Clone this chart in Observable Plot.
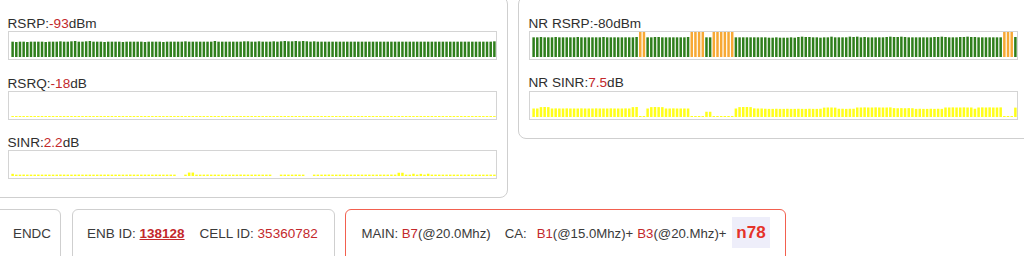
<!DOCTYPE html>
<html><head><meta charset="utf-8">
<script src="https://cdn.jsdelivr.net/npm/d3@7"></script>
<script src="https://cdn.jsdelivr.net/npm/@observablehq/plot@0.6"></script>
<style>
body{margin:0;width:1024px;height:256px;overflow:hidden;position:relative;background:#fff;font-family:"Liberation Sans",Arial,Helvetica,sans-serif;color:#333}
.panel{position:absolute;border:1px solid #cfcfcf;box-sizing:border-box}
.lbl{position:absolute;font-size:13.6px;line-height:16px;white-space:nowrap;color:#2e2e2e}
.red{color:#c3282b}
.box{position:absolute;border:1px solid #d4d4d4;box-sizing:border-box;width:489px;height:29px}
.box svg{display:block}
.bot{position:absolute;font-size:13.2px;line-height:16px;white-space:nowrap;color:#3a3a3a}
</style></head>
<body>
<div class="panel" style="left:-10px;top:-4px;width:518px;height:202px;border-radius:8px"></div>
<div class="panel" style="left:518px;top:-4px;width:520px;height:143px;border-radius:8px"></div>

<div class="lbl" style="left:7.5px;top:15.6px">RSRP:<span class="red" id="vRsrp"></span>dBm</div>
<div class="box" id="cRsrp" style="left:8px;top:31px"></div>
<div class="lbl" style="left:7.5px;top:75.6px">RSRQ:<span class="red" id="vRsrq"></span>dB</div>
<div class="box" id="cRsrq" style="left:8px;top:91px"></div>
<div class="lbl" style="left:7.5px;top:134.6px">SINR:<span class="red" id="vSinr"></span>dB</div>
<div class="box" id="cSinr" style="left:8px;top:150px"></div>

<div class="lbl" style="left:528.5px;top:15.6px">NR RSRP:<span id="vNrRsrp"></span>dBm</div>
<div class="box" id="cNrRsrp" style="left:529px;top:31px"></div>
<div class="lbl" style="left:528.5px;top:75.4px">NR SINR:<span class="red" id="vNrSinr"></span>dB</div>
<div class="box" id="cNrSinr" style="left:529px;top:91px"></div>

<div class="panel" style="left:-10px;top:209px;width:71px;height:60px;border-radius:6px"></div>
<div class="bot" style="left:13px;top:225.6px;font-size:13.4px">ENDC</div>
<div class="panel" style="left:72px;top:209px;width:263px;height:60px;border-radius:6px"></div>
<div class="bot" style="left:87px;top:225.6px;font-size:13.5px">ENB ID: <b class="red" style="text-decoration:underline" id="vEnb"></b><span style="margin-left:15px">CELL ID: </span><span class="red" id="vCell"></span></div>
<div class="panel" style="left:345px;top:209px;width:441px;height:60px;border-radius:6px;border:1px solid #f2604f"></div>
<div class="bot" id="mainLine" style="left:361.5px;top:225.6px"></div>
<div style="position:absolute;left:732px;top:217px;width:38px;height:31px;background:#eeeefa;display:flex;align-items:center;justify-content:center;font-weight:bold;font-size:17px;color:#e5322a" id="vNr"></div>

<script>
const rsrp = [
-94,-95,-94,-94,-95,-94,-94,-94,-94,-95,-94,-94,
-94,-93,-94,-94,-93,-92,-94,-94,-93,-92,-94,-94,
-94,-95,-94,-94,-94,-94,-95,-94,-94,-94,-94,-94,
-95,-94,-94,-94,-94,-95,-94,-94,-94,-94,-94,-93,
-94,-94,-94,-94,-94,-94,-94,-92,-94,-94,-94,-94,
-94,-94,-94,-93,-93,-94,-94,-93,-94,-94,-94,-93,
-94,-93,-92,-93,-93,-92,-93,-92,-93,-94,-93,-94,
-94,-94,-94,-94,-94,-94,-94,-94,-94,-94,-94,-94,
-94,-94,-94,-94,-94,-94,-94,-94,-94,-94,-94,-94,
-94,-94,-94,-94,-94,-94,-94,-94,-94,-94,-94,-94,
-94,-94,-94,-94,-94,-94,-94,-94,-94,-94,-94,-93];
const rsrq = [
-18,-18,-18,-18,-18,-18,-18,-18,-18,-18,-18,-18,
-18,-18,-18,-18,-18,-18,-18,-18,-18,-18,-18,-18,
-18,-18,-18,-18,-18,-18,-18,-18,-18,-18,-18,-18,
-18,-18,-18,-18,-18,-18,-18,-18,-18,-18,-18,-18,
-18,-18,-18,-18,-18,-18,-18,-18,-18,-18,-18,-18,
-18,-18,-18,-18,-18,-18,-18,-18,-18,-18,-18,-18,
-18,-18,-18,-18,-18,-18,-18,-18,-18,-18,-18,-18,
-18,-18,-18,-18,-18,-18,-18,-18,-18,-18,-18,-18,
-18,-18,-18,-18,-18,-18,-18,-18,-18,-18,-18,-18,
-18,-18,-18,-18,-18,-18,-18,-18,-18,-18,-18,-18,
-18,-18,-18,-18,-18,-18,-18,-18,-18,-18,-18,-18];
const sinr = [
3.5,2.2,2.2,2.3,2.2,2.2,2.2,2.3,2.2,2.2,2.2,2.2,
2.2,2.3,2.2,2.2,2.2,2.2,2.3,2.2,2.2,2.2,2.2,2.2,
2.2,2.2,2.3,2.2,2.2,2.2,2.2,2.2,2.3,2.2,2.2,2.2,
2.2,2.2,2.2,2.3,2.2,2.2,2.2,2.2,2.2,0,0,2.2,
5.5,5.5,2.2,2.2,2.2,2.3,2.2,2.2,2.2,2.2,2.2,2.2,
2.2,2.2,2.3,2.2,2.2,2.2,2.2,2.2,2.2,2.2,2.2,0,
0,2.2,2.2,2.2,2.2,2.3,2.2,2.2,0,0,2.2,2.2,
2.2,2.2,2.3,2.2,2.2,2.2,2.2,2.2,2.2,2.2,2.3,2.2,
2.2,2.2,2.2,2.2,2.2,2.2,2.2,2.3,2.2,5.2,5.2,2.2,
2.2,3.6,2.2,3.4,2.2,3.6,2.2,2.2,2.2,2.2,2.2,2.2,
2.2,2.2,2.2,2.2,2.3,2.2,2.2,2.2,2.2,2.2,2.2,2.2];
const nrRsrp = [
-81,-81,-80,-81,-81,-81,-80,-81,-81,-81,-81,-81,-80,-81,-81,-81,-81,-81,-81,-80,-81,-81,-81,-81,-81,-81,-81,-81,-80,
-60,-60,
-81,-81,-80,-80,-81,-81,-81,-81,-81,-81,-81,-80,
-60,-60,-60,-60,
-81,-81,
-60,-60,-60,-60,-60,-60,
-81,-81,-81,-81,-81,-81,-81,-81,-81,
-82,-82,-81,-82,-82,-82,-81,-82,
-80,-79,-80,-80,
-81,-81,-82,-81,-81,
-79,
-81,-81,-81,-81,
-79,-80,-79,
-81,-80,-81,-81,-81,-81,-81,
-80,-79,-80,-80,-79,-80,
-81,-81,-81,-81,-81,-81,-81,
-80,-80,-79,-80,
-81,-81,-81,-80,-80,
-79,-80,-80,-81,
-81,-81,-81,-81,-81,-81,
-60,-60,-60,
-80];
const nrSinr = [
6.8,6.8,
7.9,8.0,7.9,
6.8,6.9,6.8,6.8,6.9,6.8,6.8,6.8,6.9,6.8,6.8,6.8,6.9,6.8,6.8,6.8,6.9,6.8,6.8,6.8,6.9,6.8,
7.9,8.0,
0.8,0.8,
6.8,
7.9,8.0,7.9,7.9,
6.8,6.8,6.9,6.8,6.8,6.8,6.8,
0.8,0.8,0.8,0.8,
4.2,4.2,
0.8,0.8,0.8,0.8,0.8,0.8,
6.8,
7.9,8.0,8.0,7.9,
6.9,6.8,6.8,6.6,6.5,6.5,6.6,6.5,6.5,6.6,6.5,6.5,6.6,6.5,6.5,6.6,6.5,6.5,6.6,
7.5,7.6,7.6,7.5,
6.6,6.6,6.5,6.6,6.6,
7.6,7.6,7.7,7.6,7.6,7.7,7.6,7.6,7.6,7.7,
7.1,7.0,7.1,7.0,7.1,7.0,
6.5,6.6,6.5,6.5,6.6,6.5,6.6,6.5,
7.6,7.6,7.7,7.6,7.6,7.7,7.6,7.6,
6.6,
7.6,7.7,7.6,7.7,7.6,7.6,7.7,
0.8,0.8,0.8,
7.5];
const current = {rsrp: -93, rsrq: -18, sinr: 2.2, nrRsrp: -80, nrSinr: 7.5};
const enbId = "138128";
const cellId = "35360782";
const mainBand = "B7", mainBw = "(@20.0Mhz)";
const caBands = ["B1", "B3"];
const caBws = ["(@15.0Mhz)+", "(@20.Mhz)+"];
const nrBand = "n78";

const GREEN = "#2f7f1c", ORANGE = "#f7a935", YELLOW = "#ffff1a";

function bars(values, domain, fill) {
  const data = values.map((v, i) => ({i, v}));
  return Plot.plot({
    width: 487, height: 27,
    marginTop: 0, marginBottom: 2, marginLeft: 2, marginRight: 0,
    x: {type: "band", domain: d3.range(values.length), paddingInner: 0.32, paddingOuter: 0.1, axis: null},
    y: {domain, clamp: true, axis: null},
    style: {background: "transparent"},
    marks: [
      Plot.barY(data, {x: "i", y1: domain[0], y2: "v", fill, inset: 0})
    ]
  });
}

document.getElementById("cRsrp").append(bars(rsrp, [-140, -65], GREEN));
document.getElementById("cRsrq").append(bars(rsrq, [-18.6, -3], YELLOW));
document.getElementById("cSinr").append(bars(sinr, [0, 40], YELLOW));
document.getElementById("cNrRsrp").append(bars(nrRsrp, [-140, -65], d => d.v > -70 ? ORANGE : GREEN));
document.getElementById("cNrSinr").append(bars(nrSinr, [0, 20], YELLOW));

document.getElementById("vRsrp").textContent = current.rsrp;
document.getElementById("vRsrq").textContent = current.rsrq;
document.getElementById("vSinr").textContent = current.sinr;
document.getElementById("vNrRsrp").textContent = current.nrRsrp;
document.getElementById("vNrSinr").textContent = current.nrSinr;
document.getElementById("vEnb").textContent = enbId;
document.getElementById("vCell").textContent = cellId;
document.getElementById("vNr").textContent = nrBand;
document.getElementById("mainLine").innerHTML =
  `MAIN: <span class="red">${mainBand}</span>${mainBw}` +
  `<span style="margin-left:14px">CA:</span>` +
  caBands.map((b, k) => `<span class="red" style="margin-left:${k ? 4 : 10}px">${b}</span>${caBws[k]}`).join("");
</script>
</body></html>
